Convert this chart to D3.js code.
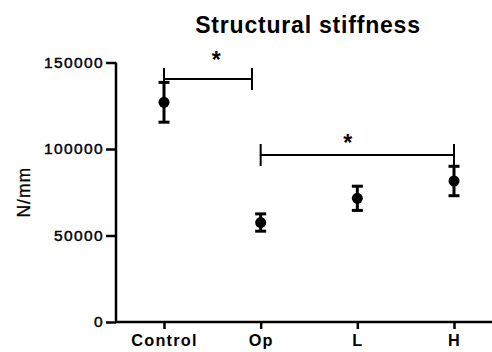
<!DOCTYPE html>
<html><head><meta charset="utf-8">
<script src="https://cdn.jsdelivr.net/npm/d3@7/dist/d3.min.js"></script>
<style>body{margin:0;background:#fff}svg{display:block}</style>
</head><body>
<svg id="c" width="492" height="352"></svg>
<script>
const categories = ["Control", "Op", "L", "H"];
const means = [127000, 57500, 71500, 81500];
const errors = [11500, 5000, 7000, 8500];
const yTicks = [0, 50000, 100000, 150000];
const brackets = [
  {from: 0, to: 0.91, value: 140500, label: "*", labelAt: 0.54, labelValue: 154300},
  {from: 1, to: 3, value: 96500, label: "*", labelAt: 1.90, labelValue: 106300}
];

const svg = d3.select("#c");
const x = d3.scaleLinear().domain([0, 3]).range([164, 454]);
const y = d3.scaleLinear().domain([0, 150000]).range([322, 62.5]);
const font = "Liberation Sans, Arial, sans-serif";

// Title
svg.append("text").attr("x", 308).attr("y", 33).attr("text-anchor", "middle")
  .attr("font-family", font).attr("font-weight", "bold").attr("font-size", 23)
  .attr("letter-spacing", 0.8).text("Structural stiffness");

// Y axis
const yAxis = svg.append("g").attr("transform", "translate(116,0)")
  .call(d3.axisLeft(y).tickValues(yTicks).tickSize(10).tickPadding(2).tickFormat(d3.format("d")));
yAxis.select(".domain").attr("stroke-width", 2.5).attr("d", `M0,${y(150000)}V${y(0)}`);
yAxis.selectAll(".tick line").attr("stroke-width", 2.5);
yAxis.selectAll("text").attr("font-family", font).attr("font-size", 15.5)
  .attr("letter-spacing", 1.4).attr("fill", "#000")
  .attr("stroke", "#000").attr("stroke-width", 0.45);

// X axis
const xAxis = svg.append("g").attr("transform", `translate(0,${y(0)})`)
  .call(d3.axisBottom(x).tickValues([0,1,2,3]).tickSize(7).tickPadding(5).tickFormat(i => categories[i]));
xAxis.select(".domain").attr("stroke-width", 2.5).attr("d", "M116,0H492");
xAxis.selectAll(".tick line").attr("stroke-width", 2.5);
xAxis.selectAll("text").attr("font-family", font).attr("font-weight", "bold").attr("font-size", 16.3)
  .attr("letter-spacing", 1.2).attr("fill", "#000");

// Y title
svg.append("text").attr("transform", `translate(29.5,${(y(0)+y(150000))/2}) rotate(-90)`)
  .attr("text-anchor", "middle").attr("font-family", font).attr("font-size", 17.5)
  .attr("letter-spacing", 1).attr("stroke", "#000").attr("stroke-width", 0.3).text("N/mm");

// Error bars & points
const g = svg.append("g");
categories.forEach((c, i) => {
  const cx = x(i);
  const top = y(means[i] + errors[i]), bot = y(means[i] - errors[i]);
  g.append("line").attr("x1", cx).attr("x2", cx).attr("y1", top).attr("y2", bot)
    .attr("stroke", "#000").attr("stroke-width", 3);
  [top, bot].forEach(v => g.append("line").attr("x1", cx - 5.5).attr("x2", cx + 5.5)
    .attr("y1", v).attr("y2", v).attr("stroke", "#000").attr("stroke-width", 3));
  g.append("circle").attr("cx", cx).attr("cy", y(means[i])).attr("r", 5.5).attr("fill", "#000");
});

// Significance brackets
const starSize = 23;
brackets.forEach(b => {
  const x1 = x(b.from), x2 = x(b.to), yy = y(b.value);
  g.append("path").attr("d", `M${x1},${yy-11}V${yy+11}M${x1},${yy}H${x2}M${x2},${yy-11}V${yy+11}`)
    .attr("stroke", "#000").attr("stroke-width", 2).attr("fill", "none");
  g.append("text").attr("x", x(b.labelAt)).attr("y", y(b.labelValue) + 0.55 * starSize)
    .attr("text-anchor", "middle")
    .attr("font-family", font).attr("font-weight", "bold").attr("font-size", starSize).text(b.label);
});
</script>
</body></html>
